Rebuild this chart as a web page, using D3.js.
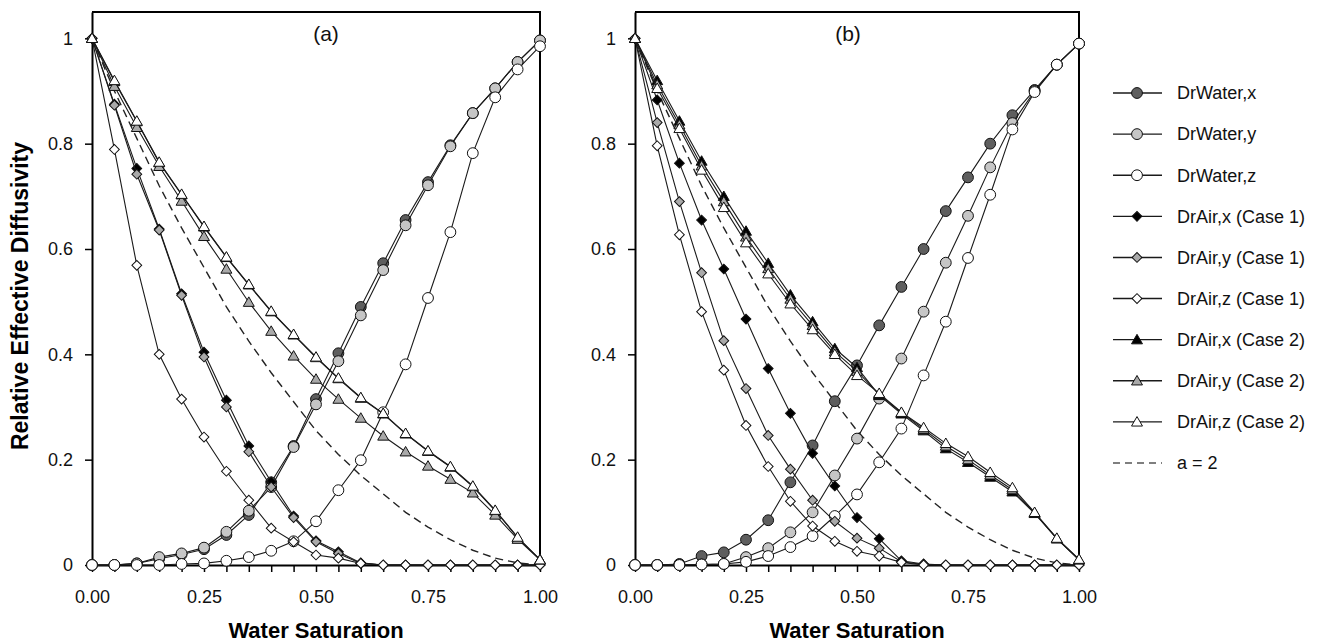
<!DOCTYPE html>
<html>
<head>
<meta charset="UTF-8" />
<title>Relative Effective Diffusivity</title>
<script src="https://d3js.org/d3.v7.min.js"></script>
<style>
body { margin: 0; background: #fff; }
text { font-family: "Liberation Sans", Arial, sans-serif; }
</style>
</head>
<body>
<script type="text/javascript">

// water saturation (x values, shared by every series)
var sw = [0, 0.05, 0.1, 0.15, 0.2, 0.25, 0.3, 0.35, 0.4, 0.45, 0.5,
          0.55, 0.6, 0.65, 0.7, 0.75, 0.8, 0.85, 0.9, 0.95, 1];

var yTicks = [0, 0.2, 0.4, 0.6, 0.8, 1];
var xLabels = [0, 0.25, 0.5, 0.75, 1];

// dashed reference curve, a = 2
var curveA2 = [1, 0.90, 0.81, 0.72, 0.64, 0.565, 0.49, 0.425, 0.365, 0.31, 0.255,
               0.21, 0.17, 0.135, 0.10, 0.072, 0.048, 0.028, 0.013, 0.004, 0];

// panel (a)
var waterXa = [0, 0, 0.003, 0.012, 0.02, 0.03, 0.057, 0.095, 0.157, 0.226, 0.315,
               0.402, 0.49, 0.573, 0.655, 0.727, 0.797, 0.858, 0.905, 0.955, 0.996];
var waterYa = [0, 0, 0.003, 0.015, 0.022, 0.033, 0.063, 0.103, 0.148, 0.224, 0.305,
               0.387, 0.474, 0.56, 0.645, 0.721, 0.795, 0.858, 0.905, 0.955, 0.996];
var waterZa = [0, 0, 0, 0, 0.002, 0.003, 0.008, 0.015, 0.027, 0.045, 0.083,
               0.142, 0.199, 0.29, 0.381, 0.507, 0.632, 0.782, 0.888, 0.941, 0.985];
var air1Xa = [1, 0.875, 0.753, 0.638, 0.515, 0.404, 0.313, 0.226, 0.158, 0.093, 0.046,
              0.025, 0.004, 0, 0, 0, 0, 0, 0, 0, 0];
var air1Ya = [1, 0.873, 0.742, 0.636, 0.512, 0.395, 0.30, 0.215, 0.148, 0.09, 0.044,
              0.022, 0.003, 0, 0, 0, 0, 0, 0, 0, 0];
var air1Za = [1, 0.789, 0.569, 0.40, 0.315, 0.243, 0.178, 0.123, 0.07, 0.044, 0.019,
              0.013, 0.003, 0, 0, 0, 0, 0, 0, 0, 0];
var air2Xa = [1, 0.918, 0.842, 0.764, 0.703, 0.642, 0.584, 0.532, 0.481, 0.437, 0.394,
              0.354, 0.317, 0.287, 0.249, 0.216, 0.186, 0.149, 0.103, 0.052, 0.01];
var air2Ya = [1, 0.909, 0.831, 0.757, 0.691, 0.624, 0.562, 0.499, 0.444, 0.397, 0.353,
              0.315, 0.279, 0.245, 0.215, 0.188, 0.163, 0.137, 0.095, 0.049, 0.01];
var air2Za = [1, 0.92, 0.843, 0.765, 0.704, 0.643, 0.585, 0.533, 0.482, 0.438, 0.395,
              0.355, 0.318, 0.288, 0.25, 0.217, 0.187, 0.15, 0.104, 0.053, 0.01];

// panel (b)
var waterXb = [0, 0, 0.002, 0.017, 0.024, 0.048, 0.085, 0.157, 0.227, 0.311, 0.379,
               0.455, 0.528, 0.60, 0.672, 0.736, 0.80, 0.854, 0.902, 0.95, 0.99];
var waterYb = [0, 0, 0, 0.001, 0.002, 0.015, 0.032, 0.062, 0.10, 0.17, 0.24,
               0.316, 0.392, 0.481, 0.574, 0.663, 0.755, 0.839, 0.90, 0.95, 0.99];
var waterZb = [0, 0, 0, 0.001, 0.002, 0.006, 0.017, 0.034, 0.055, 0.093, 0.134,
               0.195, 0.259, 0.36, 0.462, 0.583, 0.703, 0.827, 0.898, 0.95, 0.99];
var air1Xb = [1, 0.883, 0.763, 0.655, 0.562, 0.467, 0.373, 0.288, 0.212, 0.150, 0.09,
              0.05, 0.008, 0.002, 0, 0, 0, 0, 0, 0, 0];
var air1Yb = [1, 0.84, 0.69, 0.555, 0.426, 0.335, 0.246, 0.182, 0.123, 0.083, 0.051,
              0.032, 0.006, 0.001, 0, 0, 0, 0, 0, 0, 0];
var air1Zb = [1, 0.796, 0.627, 0.481, 0.37, 0.265, 0.187, 0.121, 0.074, 0.045, 0.026,
              0.017, 0.005, 0, 0, 0, 0, 0, 0, 0, 0];
var air2Xb = [1, 0.92, 0.843, 0.767, 0.70, 0.634, 0.573, 0.513, 0.462, 0.411, 0.375,
              0.322, 0.287, 0.255, 0.221, 0.195, 0.167, 0.139, 0.098, 0.05, 0.01];
var air2Yb = [1, 0.912, 0.836, 0.758, 0.69, 0.623, 0.563, 0.505, 0.455, 0.405, 0.368,
              0.324, 0.289, 0.258, 0.226, 0.200, 0.171, 0.143, 0.099, 0.05, 0.01];
var air2Zb = [1, 0.905, 0.829, 0.75, 0.679, 0.612, 0.553, 0.496, 0.447, 0.40, 0.36,
              0.326, 0.29, 0.261, 0.231, 0.206, 0.176, 0.147, 0.10, 0.051, 0.011];

var seriesNames = ["DrWater,x", "DrWater,y", "DrWater,z",
                   "DrAir,x (Case 1)", "DrAir,y (Case 1)", "DrAir,z (Case 1)",
                   "DrAir,x (Case 2)", "DrAir,y (Case 2)", "DrAir,z (Case 2)"];
var dashName = "a = 2";

// marker style per series (same order as names)
var shapes = ["circle", "circle", "circle", "diamond", "diamond", "diamond",
              "triangle", "triangle", "triangle"];
var fills = ["#5e5e5e", "#c6c6c6", "#ffffff", "#000000", "#a9a9a9", "#ffffff",
             "#000000", "#a9a9a9", "#ffffff"];

var width = 1321
var height = 644

var svg = d3.select("body").append("svg")
    .attr("width", width)
    .attr("height", height);

var panels = [
  {label: "(a)", left: 92, right: 540, labelX: 326,
   series: [waterXa, waterYa, waterZa, air1Xa, air1Ya, air1Za, air2Xa, air2Ya, air2Za]},
  {label: "(b)", left: 635, right: 1079, labelX: 848,
   series: [waterXb, waterYb, waterZb, air1Xb, air1Yb, air1Zb, air2Xb, air2Yb, air2Zb]}
];

function marker(sel, shape, fill) {
  if (shape == "circle") {
    sel.attr("d", d3.symbol(d3.symbolCircle, 92)());
  } else if (shape == "diamond") {
    sel.attr("d", d3.symbol(d3.symbolSquare, 48)());
  } else {
    sel.attr("d", d3.symbol(d3.symbolTriangle, 52)());
  }
  sel.attr("fill", fill).attr("stroke", "#111").attr("stroke-width", 1);
}

function place(shape, px, py) {
  var t = "translate(" + px + "," + py + ")";
  if (shape == "diamond") t += " rotate(45)";
  if (shape == "triangle") t += " translate(0,1)";
  return t;
}

panels.forEach(function(p) {
  var x = d3.scaleLinear().domain([0, 1]).range([p.left, p.right]);
  var y = d3.scaleLinear().domain([0, 1.05]).range([565, 12]);

  // frame (top and right)
  svg.append("path")
    .attr("d", "M" + x(0) + "," + y(1.05) + "H" + x(1) + "V" + y(0))
    .attr("fill", "none").attr("stroke", "#000").attr("stroke-width", 2);

  var xAxis = d3.axisBottom(x)
    .tickValues(sw)
    .tickSize(7).tickSizeOuter(0).tickPadding(18)
    .tickFormat(function(d) {
      return xLabels.some(function(v) { return Math.abs(v - d) < 1e-6; }) ? d3.format(".2f")(d) : "";
    });
  var gx = svg.append("g").attr("transform", "translate(0," + y(0) + ")").call(xAxis);

  var yAxis = d3.axisLeft(y)
    .tickValues(yTicks)
    .tickSize(7).tickSizeOuter(0).tickPadding(12)
    .tickFormat(function(d) { return d3.format("")(+d.toFixed(1)); });
  var gy = svg.append("g").attr("transform", "translate(" + x(0) + ",0)").call(yAxis);

  [gx, gy].forEach(function(g) {
    g.select(".domain").attr("stroke", "#000").attr("stroke-width", 2);
    g.selectAll(".tick line").attr("stroke", "#000").attr("stroke-width", 1.5);
    g.selectAll(".tick text").attr("font-size", 18).attr("fill", "#111")
      .attr("font-family", "Liberation Sans, Arial, sans-serif");
  });

  var line = d3.line()
    .x(function(d, i) { return x(sw[i]); })
    .y(function(d) { return y(d); });

  // dashed a = 2 curve
  svg.append("path")
    .datum(curveA2)
    .attr("d", line)
    .attr("fill", "none")
    .attr("stroke", "#222")
    .attr("stroke-width", 1.4)
    .attr("stroke-dasharray", "8,5");

  p.series.forEach(function(vals, k) {
    var g = svg.append("g");
    g.append("path")
      .datum(vals)
      .attr("d", line)
      .attr("fill", "none")
      .attr("stroke", "#1a1a1a")
      .attr("stroke-width", 1.1);
    g.selectAll("path.pt")
      .data(vals)
      .enter().append("path")
      .attr("class", "pt")
      .call(marker, shapes[k], fills[k])
      .attr("transform", function(d, i) { return place(shapes[k], x(sw[i]), y(d)); });
  });

  svg.append("text")
    .attr("x", p.labelX).attr("y", 41)
    .attr("text-anchor", "middle")
    .attr("font-size", 21)
    .attr("fill", "#111")
    .text(p.label);

  svg.append("text")
    .attr("x", (p.left + p.right) / 2).attr("y", 638)
    .attr("text-anchor", "middle")
    .attr("font-size", 22)
    .attr("font-weight", "bold")
    .text("Water Saturation");
});

svg.append("text")
  .attr("transform", "translate(28,296) rotate(-90)")
  .attr("text-anchor", "middle")
  .attr("font-size", 23)
  .attr("font-weight", "bold")
  .text("Relative Effective Diffusivity");

// legend
var legend = svg.append("g");
var rowY = d3.scaleLinear().domain([0, 9]).range([93, 463]);

seriesNames.forEach(function(name, k) {
  var yy = rowY(k);
  legend.append("line")
    .attr("x1", 1113).attr("x2", 1162).attr("y1", yy).attr("y2", yy)
    .attr("stroke", "#1a1a1a").attr("stroke-width", 1.4);
  legend.append("path")
    .call(marker, shapes[k], fills[k])
    .attr("transform", place(shapes[k], 1137, yy));
  legend.append("text")
    .attr("x", 1177).attr("y", yy).attr("dy", "0.35em")
    .attr("font-size", 18).attr("fill", "#111")
    .text(name);
});

legend.append("line")
  .attr("x1", 1113).attr("x2", 1162).attr("y1", rowY(9)).attr("y2", rowY(9))
  .attr("stroke", "#555").attr("stroke-width", 1.4)
  .attr("stroke-dasharray", "7,5");
legend.append("text")
  .attr("x", 1177).attr("y", rowY(9)).attr("dy", "0.35em")
  .attr("font-size", 18).attr("fill", "#111")
  .text(dashName);

</script>
</body>
</html>
